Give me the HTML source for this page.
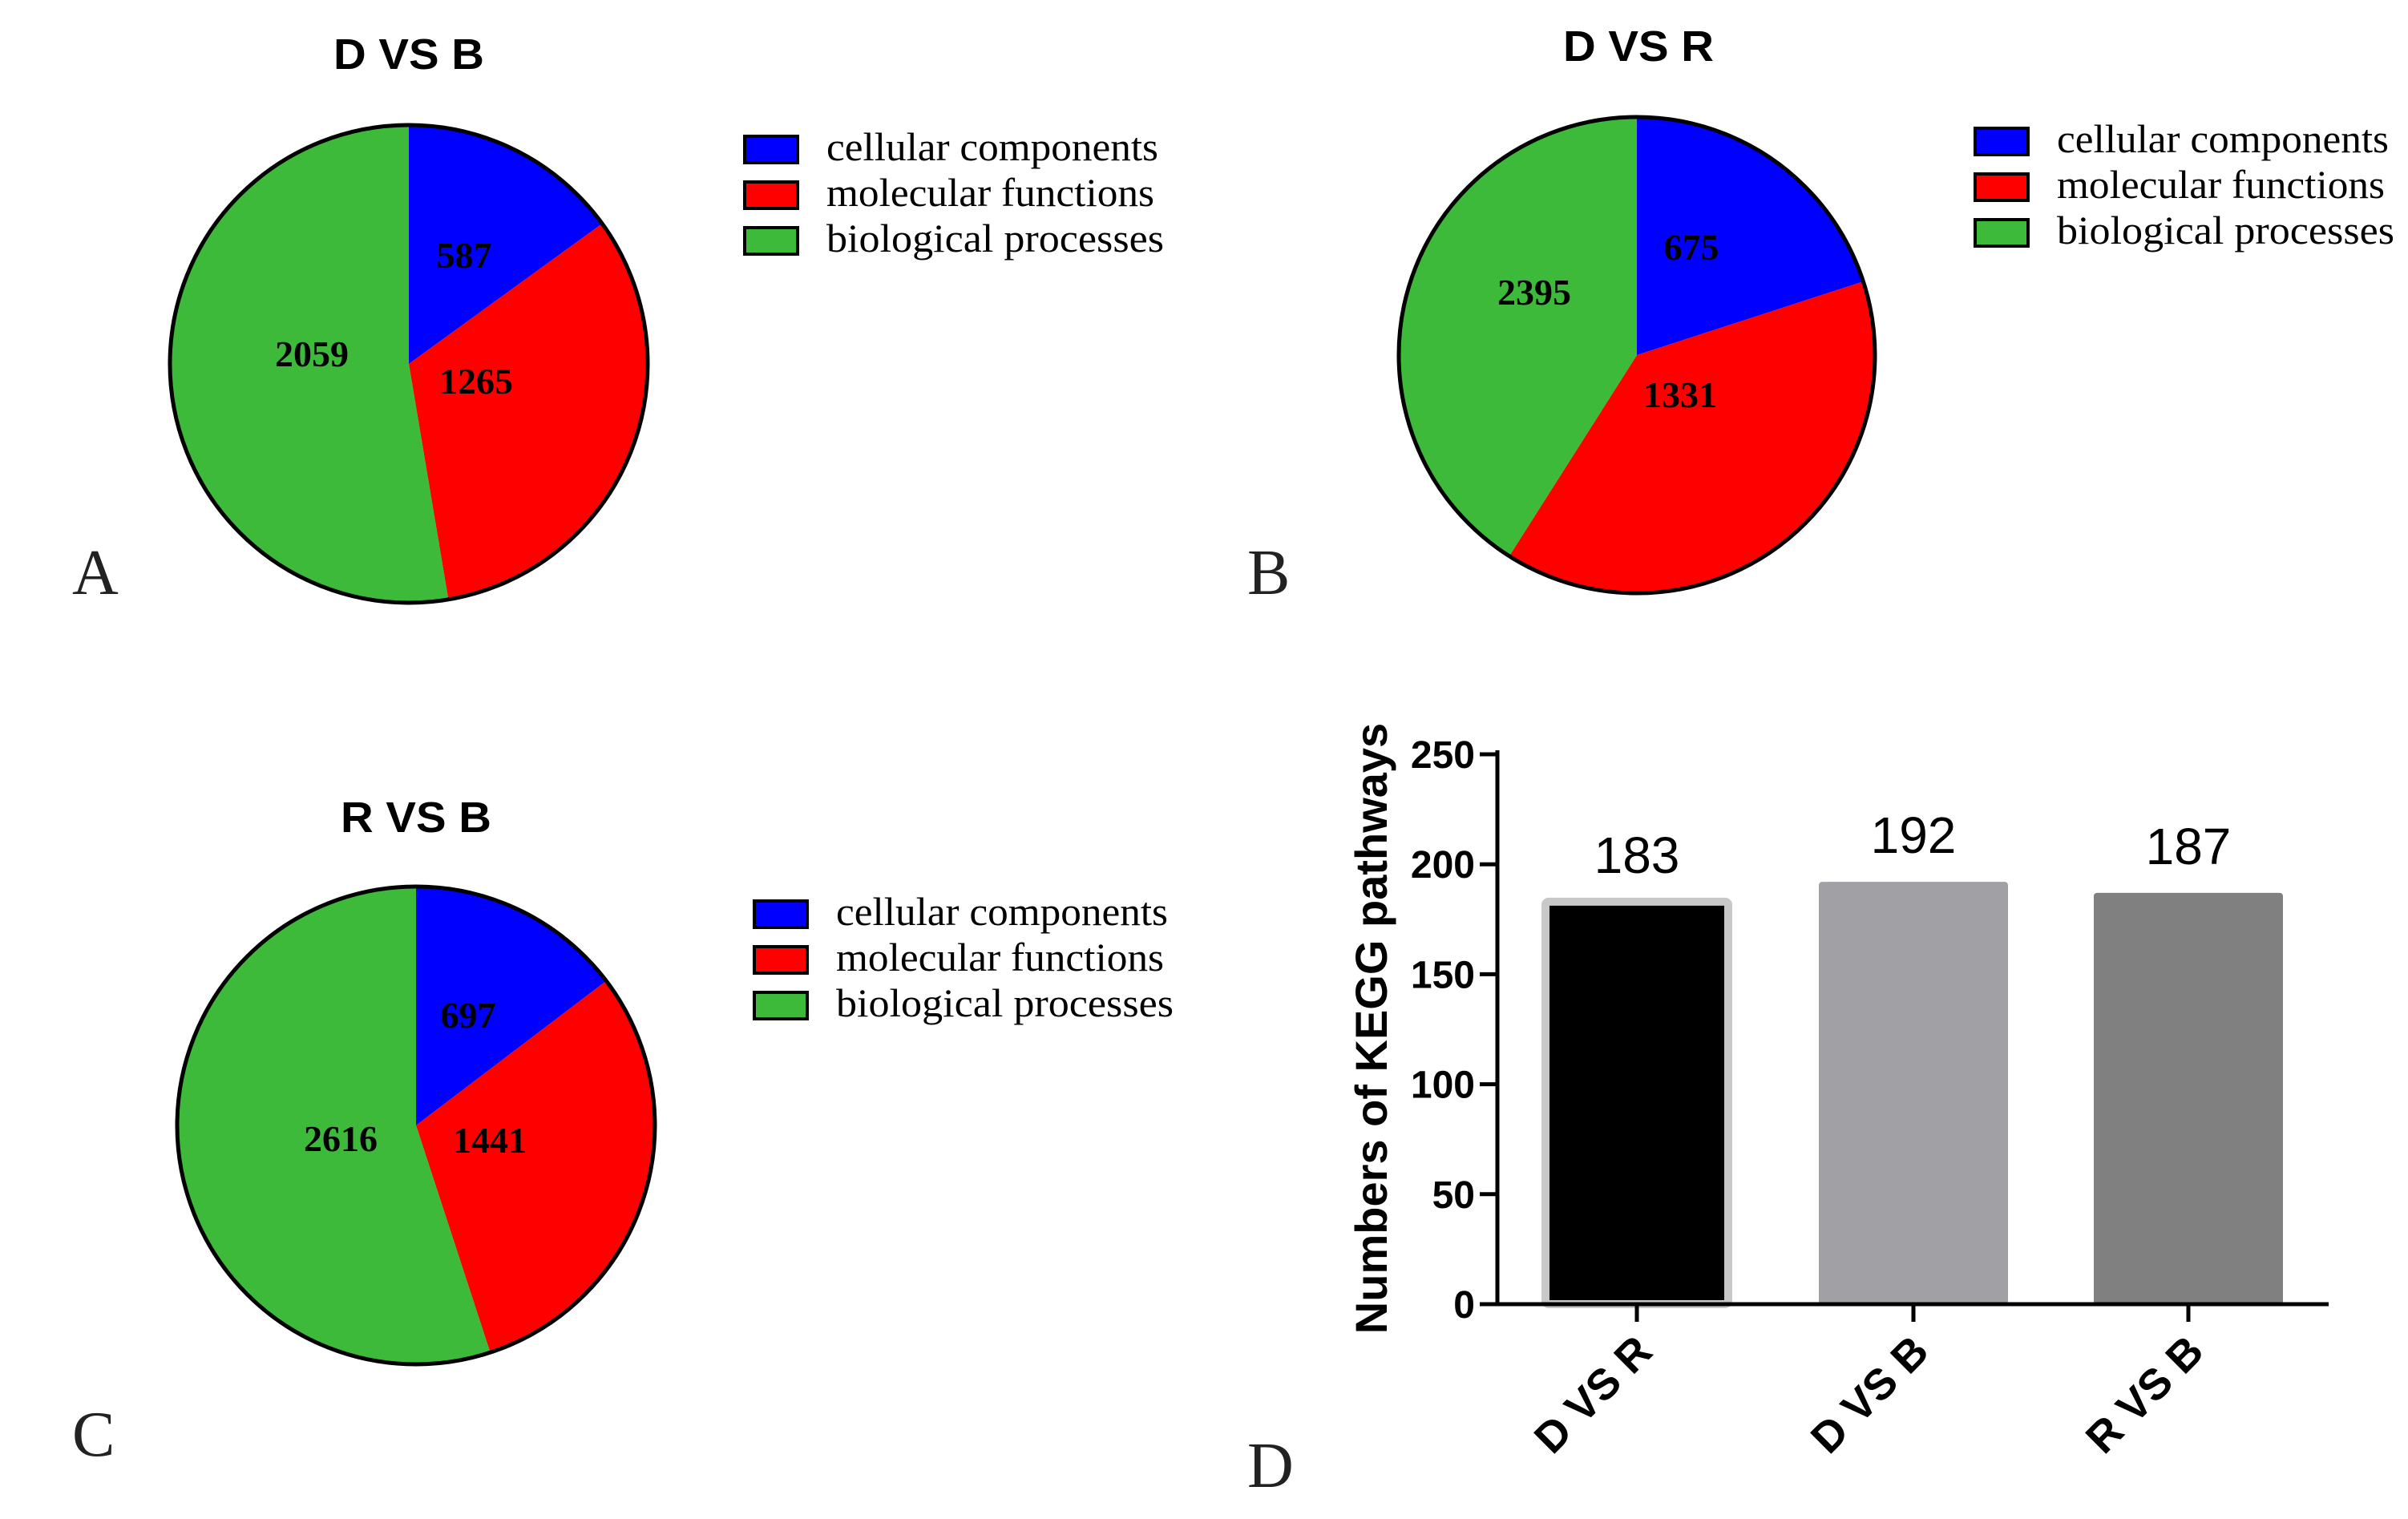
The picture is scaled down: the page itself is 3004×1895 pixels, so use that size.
<!DOCTYPE html>
<html><head><meta charset="utf-8"><style>
html,body{margin:0;padding:0;background:#fff;}
svg{display:block;}
.serif{font-family:"Liberation Serif",serif;}
.sans{font-family:"Liberation Sans",sans-serif;}
</style></head><body>
<svg id="fig" width="3004" height="1895" viewBox="0 0 3004 1895" xmlns="http://www.w3.org/2000/svg"></svg>
<script>
const pieTitles = ["D VS B", "D VS R", "R VS B"];
const pieLetters = ["A", "B", "C"];
const pieA = [587, 1265, 2059];
const pieB = [675, 1331, 2395];
const pieC = [697, 1441, 2616];
// slice shares as drawn in panel B (percent)
const pieBShares = [20, 39, 41];
const legendLabels = ["cellular components", "molecular functions", "biological processes"];
const sliceColors = ["#0000ff", "#ff0000", "#3dba3a"];

const barCategories = ["D VS R", "D VS B", "R VS B"];
const barValues = [183, 192, 187];
const barTicks = [0, 50, 100, 150, 200, 250];

const NS = "http://www.w3.org/2000/svg";
const svg = document.getElementById('fig');
function mk(tag, attrs, parent, text) {
  const e = document.createElementNS(NS, tag);
  for (const k in attrs) e.setAttribute(k, attrs[k]);
  if (text !== undefined) e.textContent = text;
  (parent || svg).appendChild(e);
  return e;
}

const pieLayouts = [
  {cx:510, cy:454, r:298, tx:510, ty:86, lx:929, ly:186, letX:90, letY:741, labelPos:[[579,318],[594,475],[389,441]]},
  {cx:2042, cy:443, r:297, tx:2044, ty:76, lx:2464, ly:176, letX:1556, letY:741, labelPos:[[2110,308],[2096,492],[1914,364]]},
  {cx:519, cy:1404, r:298, tx:519, ty:1038, lx:941, ly:1140, letX:90, letY:1816, labelPos:[[584,1266],[611,1422],[425,1420]]}
];
const pieData = [pieA, pieB, pieC];
const pieShares = [pieA, pieBShares, pieC];
const legendWidths = [414, 409, 421];

pieData.forEach((vals, pi) => {
  const L = pieLayouts[pi];
  const shares = pieShares[pi];
  const g = mk('g', {});
  
  
  const title = mk('text', {x:L.tx, y:L.ty, 'text-anchor':'middle', class:'sans', 'font-weight':'bold', 'font-size':54, textLength:188, lengthAdjust:'spacingAndGlyphs'}, g, pieTitles[pi]);
  
  
  const total = shares.reduce((a,b)=>a+b,0);
  let a0 = 0;
  shares.forEach((v, i) => {
    const a1 = a0 + v / total * Math.PI * 2;
    const x0 = L.cx + L.r*Math.sin(a0), y0 = L.cy - L.r*Math.cos(a0);
    const x1 = L.cx + L.r*Math.sin(a1), y1 = L.cy - L.r*Math.cos(a1);
    const large = (a1 - a0) > Math.PI ? 1 : 0;
    const p = mk('path', {d:`M${L.cx},${L.cy} L${x0},${y0} A${L.r},${L.r} 0 ${large} 1 ${x1},${y1} Z`, fill:sliceColors[i]}, g);
    
    
    a0 = a1;
  });
  mk('circle', {cx:L.cx, cy:L.cy, r:L.r, fill:'none', stroke:'#000', 'stroke-width':5}, g);
  vals.forEach((v, i) => {
    const t = mk('text', {x:L.labelPos[i][0], y:L.labelPos[i][1]+16, 'text-anchor':'middle', class:'serif', 'font-weight':'bold', 'font-size':46}, g, String(v));
    
    
  });
  legendLabels.forEach((lab, i) => {
    const y = L.ly + i*57;
    const r = mk('rect', {x:L.lx, y:y-16, width:66, height:33, fill:sliceColors[i], stroke:'#000', 'stroke-width':4}, g);
    
    
    const t = mk('text', {x:L.lx+102, y:y+14, class:'serif', 'font-size':50, textLength:legendWidths[i], lengthAdjust:'spacingAndGlyphs'}, g, lab);
    
    
  });
  const let_ = mk('text', {x:L.letX, y:L.letY, class:'serif', 'font-size':80, fill:'#222'}, g, pieLetters[pi]);
  
  
});

// Bar chart
const X0 = 1868, X1 = 2905, Y0 = 1627, Y250 = 941;
const yScale = v => Y0 - (v / 250) * (Y0 - Y250);
const centers = [2042, 2387, 2730];
const barW = 236;
const barColors = ["#000000", "#a1a1a5", "#808080"];
const bg = mk('g', {});


barValues.forEach((v, i) => {
  const y = yScale(v);
  const b = mk('rect', {x:centers[i]-barW/2, y:y, width:barW, height:Y0-y, fill:barColors[i], rx:4}, bg);
  if (i === 0) { b.setAttribute('stroke', '#c8c8c8'); b.setAttribute('stroke-width', 10); b.setAttribute('x', centers[i]-barW/2+4); b.setAttribute('width', barW-8); }
  
  
  const t = mk('text', {x:centers[i], y:y-36, 'text-anchor':'middle', class:'sans', 'font-size':64}, bg, String(v));
  
  
});
mk('line', {x1:X0, y1:Y250-5, x2:X0, y2:Y0+2, stroke:'#000', 'stroke-width':5}, bg);
mk('line', {x1:X0-22, y1:Y0, x2:X1, y2:Y0, stroke:'#000', 'stroke-width':5}, bg);
barTicks.forEach(v => {
  const y = yScale(v);
  mk('line', {x1:X0-22, y1:y, x2:X0, y2:y, stroke:'#000', 'stroke-width':5}, bg);
  const t = mk('text', {x:X0-28, y:y+17, 'text-anchor':'end', class:'sans', 'font-weight':'bold', 'font-size':48}, bg, String(v));
  
  
});
barCategories.forEach((c, i) => {
  mk('line', {x1:centers[i], y1:Y0, x2:centers[i], y2:Y0+22, stroke:'#000', 'stroke-width':5}, bg);
  const t = mk('text', {x:0, y:0, 'text-anchor':'end', class:'sans', 'font-weight':'bold', 'font-size':54, transform:`translate(${centers[i]+22},${Y0+62}) rotate(-45)`}, bg, c);
  
  
});
const yt = mk('text', {x:0, y:0, 'text-anchor':'middle', class:'sans', 'font-weight':'bold', 'font-size':56, transform:'translate(1730,1283) rotate(-90)'}, bg, 'Numbers of KEGG pathways');


const dl = mk('text', {x:1556, y:1855, class:'serif', 'font-size':80, fill:'#222'}, bg, 'D');


</script>
</body></html>
